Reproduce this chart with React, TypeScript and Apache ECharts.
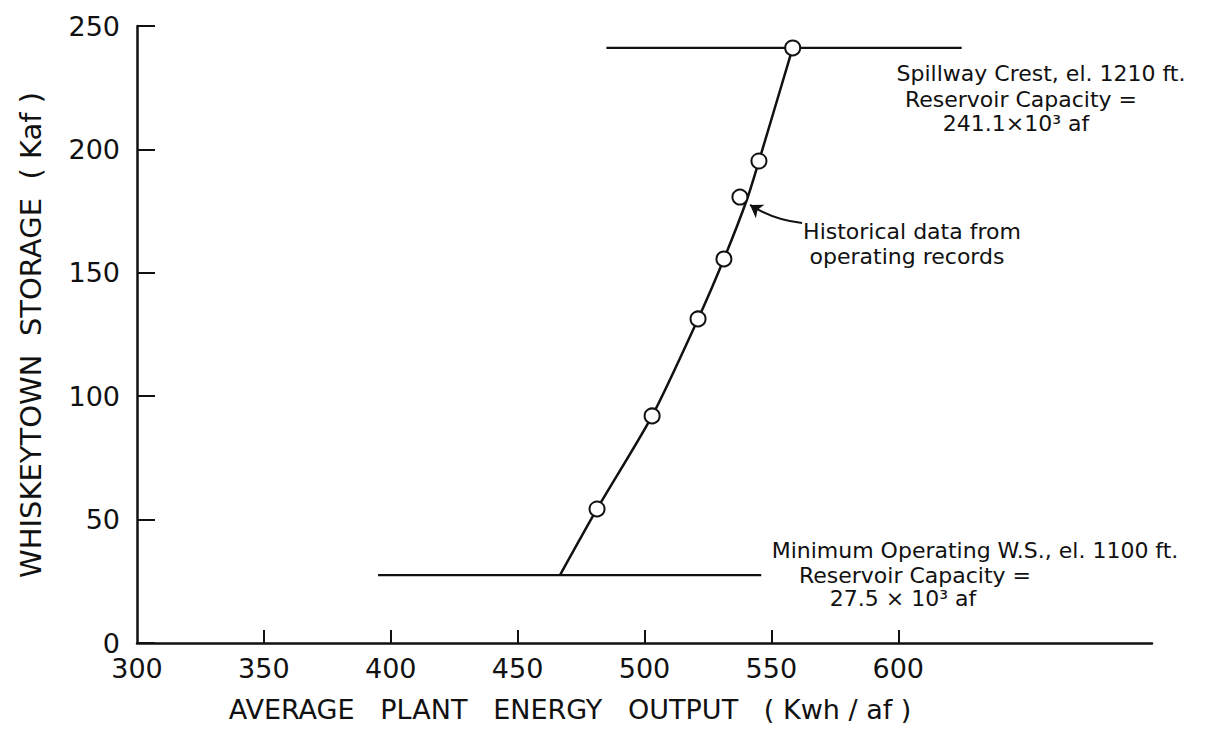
import React, { useEffect, useRef } from "react";
import * as echarts from "echarts";

// ---- data ----
const xTickValues = [350, 400, 450, 500, 550, 600];
const xLabelMax = 600;

// historical data points (Kwh/af, Kaf)
const historicalX = [481.3, 503.0, 521.1, 531.3, 537.6, 545.1, 558.4];
const historicalY = [54.3, 92.0, 131.3, 155.6, 180.7, 195.3, 241.1];

// fitted curve
const curveX = [466.7, 481.3, 503.0, 521.1, 531.3, 540.3, 545.1, 558.4];
const curveY = [27.5, 54.3, 92.0, 131.3, 155.6, 179.5, 195.3, 241.1];

// reference levels
const spillwayX = [485, 625];
const spillwayLevel = 241.1;
const minimumX = [395, 546];
const minimumLevel = 27.5;

// annotation arrow (data coordinates)
const arrowFrom = [562.1, 170.2];
const arrowTo = [541.6, 177.5];

const FONT = "DejaVu Sans";
const NB = "\u00a0";

export default function App() {
  const ref = useRef<HTMLDivElement>(null);

  useEffect(() => {
    if (!ref.current) return;
    const chart = echarts.init(ref.current, null, { renderer: "svg" });

    const pairs = (xs: number[], ys: number[]) => xs.map((x, i) => [x, ys[i]]);

    const txt = (text: string, x: number, y: number, size = 22) => ({
      type: "text",
      x,
      y,
      style: {
        text,
        fill: "#111",
        font: `${size}px "${FONT}"`,
        textAlign: "center",
        textVerticalAlign: "middle",
      },
    });

    const option: any = {
      animation: false,
      backgroundColor: "#fff",
      grid: { left: 137, right: 61, top: 26, bottom: 90 },
      xAxis: {
        type: "value",
        min: 300,
        max: 700,
        interval: 50,
        axisLine: { show: true, lineStyle: { color: "#111", width: 2.5 } },
        axisTick: {
          show: true,
          inside: true,
          length: 13,
          customValues: xTickValues,
          lineStyle: { color: "#111", width: 2 },
        },
        axisLabel: {
          color: "#111",
          fontFamily: FONT,
          fontSize: 27,
          margin: 12,
          formatter: (v: number) => (v <= xLabelMax ? String(v) : ""),
        },
        splitLine: { show: false },
      },
      yAxis: {
        type: "value",
        min: 0,
        max: 250,
        interval: 50,
        axisLine: { show: true, lineStyle: { color: "#111", width: 2.5 } },
        axisTick: {
          show: true,
          inside: true,
          length: 18,
          lineStyle: { color: "#111", width: 2 },
        },
        axisLabel: {
          color: "#111",
          fontFamily: FONT,
          fontSize: 27,
          margin: 17,
        },
        splitLine: { show: false },
      },
      series: [
        {
          type: "line",
          data: pairs(curveX, curveY),
          smooth: 0.25,
          symbol: "none",
          lineStyle: { color: "#111", width: 2.5 },
          z: 2,
        },
        {
          type: "line",
          data: spillwayX.map((x) => [x, spillwayLevel]),
          symbol: "none",
          lineStyle: { color: "#111", width: 2.2 },
          z: 2,
        },
        {
          type: "line",
          data: minimumX.map((x) => [x, minimumLevel]),
          symbol: "none",
          lineStyle: { color: "#111", width: 2.2 },
          z: 2,
        },
        {
          type: "lines",
          coordinateSystem: "cartesian2d",
          symbol: ["none", "arrow"],
          symbolSize: 12,
          lineStyle: { color: "#111", width: 2, opacity: 1, curveness: 0.12 },
          itemStyle: { color: "#111", opacity: 1 },
          data: [{ coords: [arrowFrom, arrowTo] }],
          z: 2,
        },
        {
          type: "scatter",
          data: pairs(historicalX, historicalY),
          symbol: "circle",
          symbolSize: 15,
          itemStyle: { color: "#fff", borderColor: "#111", borderWidth: 2, opacity: 1 },
          z: 4,
        },
      ],
      graphic: [
        txt("Spillway Crest, el. 1210 ft.", 1041, 73),
        txt("Reservoir Capacity =", 1021, 99),
        txt("241.1×10³ af", 1016, 123),
        txt("Historical data from", 912, 231),
        txt("operating records", 907, 256),
        txt("Minimum Operating W.S., el. 1100 ft.", 975, 550),
        txt("Reservoir Capacity =", 915, 575),
        txt("27.5 × 10³ af", 903, 598),
        txt(
          `AVERAGE${NB}${NB}${NB}PLANT${NB}${NB}${NB}ENERGY${NB}${NB}${NB}OUTPUT${NB}${NB}${NB}(${NB}Kwh${NB}/${NB}af${NB})`,
          570,
          709,
          27
        ),
        {
          type: "text",
          x: 31,
          y: 335,
          rotation: Math.PI / 2,
          style: {
            text: `WHISKEYTOWN${NB}${NB}STORAGE${NB}${NB}(${NB}Kaf${NB})`,
            fill: "#111",
            font: `29px "${FONT}"`,
            textAlign: "center",
            textVerticalAlign: "middle",
          },
        },
      ],
    };

    chart.setOption(option);
    return () => chart.dispose();
  }, []);

  return (
    <div
      ref={ref}
      style={{
        position: "absolute",
        left: 0,
        top: 0,
        width: 1213,
        height: 733,
        background: "#fff",
      }}
    />
  );
}
